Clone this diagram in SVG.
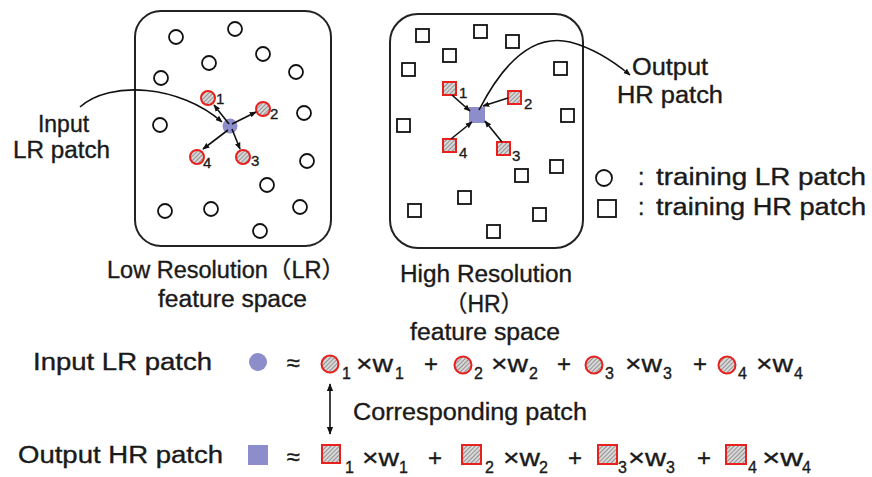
<svg xmlns="http://www.w3.org/2000/svg" width="872" height="477" viewBox="0 0 872 477">
<defs>
<pattern id="hatch" patternUnits="userSpaceOnUse" width="3" height="3" patternTransform="rotate(45)">
<rect width="3" height="3" fill="#d8d8d8"/>
<line x1="0" y1="0" x2="0" y2="3" stroke="#6a6a6a" stroke-width="1.3"/>
</pattern>
<marker id="ah" viewBox="0 0 10 10" refX="9" refY="5" markerWidth="7" markerHeight="7" orient="auto-start-reverse" markerUnits="userSpaceOnUse">
<path d="M0,1 L10,5 L0,9 z" fill="#111"/>
</marker>
<marker id="ah2" viewBox="0 0 10 10" refX="9" refY="5" markerWidth="8" markerHeight="8" orient="auto-start-reverse" markerUnits="userSpaceOnUse">
<path d="M0,1 L10,5 L0,9 z" fill="#111"/>
</marker>
</defs>
<style>
text{font-family:"Liberation Sans","Noto Sans CJK JP",Arial,sans-serif;fill:#1a1a1a;stroke:#1a1a1a;stroke-width:0.35}
.t{font-size:23px}
.n{font-size:15px}
.s{font-size:16px}
.e{font-size:24px}
.box{fill:none;stroke:#222;stroke-width:2}
.tc{fill:#fff;stroke:#111;stroke-width:1.8}
.hc{fill:url(#hatch);stroke:#e8201e;stroke-width:2}
.blue{fill:#8d8dcc}
.ar{fill:none;stroke:#111;stroke-width:1.6}
</style>
<rect width="872" height="477" fill="#fff"/>

<g id="lr-space">
<rect class="box" x="135" y="11" width="196" height="235" rx="26"/>
<g id="lr-training">
<circle class="tc" cx="176" cy="37" r="7"/>
<circle class="tc" cx="235" cy="29" r="7"/>
<circle class="tc" cx="263" cy="54" r="7"/>
<circle class="tc" cx="209" cy="63" r="7"/>
<circle class="tc" cx="161" cy="78" r="7"/>
<circle class="tc" cx="296" cy="72" r="7"/>
<circle class="tc" cx="304" cy="113" r="7"/>
<circle class="tc" cx="160" cy="125" r="7"/>
<circle class="tc" cx="307" cy="161" r="7"/>
<circle class="tc" cx="267" cy="185" r="7"/>
<circle class="tc" cx="165" cy="211" r="7"/>
<circle class="tc" cx="211" cy="209" r="7"/>
<circle class="tc" cx="300" cy="207" r="7"/>
<circle class="tc" cx="260" cy="231" r="7"/>
</g>
<g id="lr-neighbors">
<circle class="hc" cx="208" cy="98" r="7"/>
<circle class="hc" cx="263" cy="109" r="7"/>
<circle class="hc" cx="243" cy="157" r="7"/>
<circle class="hc" cx="197" cy="157" r="7"/>
<text class="n" x="216" y="104">1</text>
<text class="n" x="270" y="119">2</text>
<text class="n" x="251" y="166">3</text>
<text class="n" x="203" y="168">4</text>
</g>
<circle id="lr-input" class="blue" cx="230" cy="126" r="7.5"/>
</g>

<g id="hr-space">
<rect class="box" x="390" y="14" width="193" height="234" rx="28"/>
<g id="hr-training">
<rect class="tc" x="416" y="29" width="13" height="13"/>
<rect class="tc" x="474" y="25" width="13" height="13"/>
<rect class="tc" x="506" y="35" width="13" height="13"/>
<rect class="tc" x="443" y="49" width="13" height="13"/>
<rect class="tc" x="402" y="63" width="13" height="13"/>
<rect class="tc" x="554" y="62" width="13" height="13"/>
<rect class="tc" x="397" y="119" width="13" height="13"/>
<rect class="tc" x="561" y="109" width="13" height="13"/>
<rect class="tc" x="550" y="160" width="13" height="13"/>
<rect class="tc" x="515" y="169" width="13" height="13"/>
<rect class="tc" x="458" y="191" width="13" height="13"/>
<rect class="tc" x="408" y="204" width="13" height="13"/>
<rect class="tc" x="533" y="208" width="13" height="13"/>
<rect class="tc" x="487" y="225" width="13" height="13"/>
</g>
<g id="hr-neighbors">
<rect class="hc" x="443" y="82" width="13" height="13"/>
<rect class="hc" x="508" y="91" width="13" height="13"/>
<rect class="hc" x="497" y="142" width="13" height="13"/>
<rect class="hc" x="443" y="139" width="13" height="13"/>
<text class="n" x="459" y="98">1</text>
<text class="n" x="524" y="109">2</text>
<text class="n" x="512" y="161">3</text>
<text class="n" x="459" y="158">4</text>
</g>
<rect id="hr-output" class="blue" x="469" y="107" width="16" height="16"/>
</g>

<g id="connectors">
<path class="ar" d="M80,107 C110,80 180,85 222,122" marker-end="url(#ah)"/>
<line class="ar" x1="229" y1="124" x2="214" y2="105" marker-end="url(#ah)"/>
<line class="ar" x1="232" y1="124" x2="256" y2="112" marker-end="url(#ah)"/>
<line class="ar" x1="232" y1="129" x2="240" y2="149" marker-end="url(#ah)"/>
<line class="ar" x1="228" y1="130" x2="203" y2="149" marker-end="url(#ah)"/>
<line class="ar" x1="452" y1="95" x2="470" y2="111" marker-end="url(#ah)"/>
<line class="ar" x1="508" y1="98" x2="483" y2="106" marker-end="url(#ah)"/>
<line class="ar" x1="502" y1="142" x2="485" y2="121" marker-end="url(#ah)"/>
<line class="ar" x1="451" y1="139" x2="472" y2="122" marker-end="url(#ah)"/>
<path class="ar" d="M479,110 Q520,30 570,42 Q600,50 630,75" marker-end="url(#ah)"/>
<line class="ar" x1="330" y1="384" x2="330" y2="434" marker-start="url(#ah2)" marker-end="url(#ah2)"/>
</g>

<g id="labels">
<text class="t" x="38" y="132" textLength="51" lengthAdjust="spacingAndGlyphs">Input</text>
<text class="t" x="13" y="158" textLength="97" lengthAdjust="spacingAndGlyphs">LR patch</text>
<text class="t" x="632" y="75" textLength="76" lengthAdjust="spacingAndGlyphs">Output</text>
<text class="t" x="617" y="103" textLength="106" lengthAdjust="spacingAndGlyphs">HR patch</text>
<text class="t" x="107" y="278" textLength="238" lengthAdjust="spacingAndGlyphs">Low Resolution（LR）</text>
<text class="t" x="158" y="307" textLength="149" lengthAdjust="spacingAndGlyphs">feature space</text>
<text class="t" x="400" y="282" textLength="172" lengthAdjust="spacingAndGlyphs">High Resolution</text>
<text class="t" x="484" y="312" text-anchor="middle">（HR）</text>
<text class="t" x="410" y="340" textLength="150" lengthAdjust="spacingAndGlyphs">feature space</text>
</g>

<g id="legend">
<circle class="tc" cx="604" cy="178" r="8"/>
<text class="t" x="638" y="185">:</text>
<text class="t" x="656" y="185" textLength="210" lengthAdjust="spacingAndGlyphs">training LR patch</text>
<rect class="tc" x="598" y="200" width="18" height="17"/>
<text class="t" x="638" y="215">:</text>
<text class="t" x="656" y="215" textLength="210" lengthAdjust="spacingAndGlyphs">training HR patch</text>
</g>

<g id="equation-lr">
<text class="t" x="33" y="370" textLength="179" lengthAdjust="spacingAndGlyphs">Input LR patch</text>
<circle class="blue" cx="258" cy="362" r="9"/>
<text class="e" x="293" y="371" text-anchor="middle">≈</text>
<circle class="hc" cx="330" cy="364" r="8.5"/>
<text class="s" x="342" y="379">1</text>
<text class="e" x="356" y="372" textLength="37" lengthAdjust="spacingAndGlyphs">×w</text>
<text class="s" x="395" y="379">1</text>
<text class="e" x="431" y="372" text-anchor="middle">+</text>
<circle class="hc" cx="463" cy="365" r="8.5"/>
<text class="s" x="474" y="379">2</text>
<text class="e" x="491" y="372" textLength="37" lengthAdjust="spacingAndGlyphs">×w</text>
<text class="s" x="529" y="379">2</text>
<text class="e" x="564" y="372" text-anchor="middle">+</text>
<circle class="hc" cx="594" cy="365" r="8.5"/>
<text class="s" x="605" y="379">3</text>
<text class="e" x="625" y="372" textLength="37" lengthAdjust="spacingAndGlyphs">×w</text>
<text class="s" x="663" y="379">3</text>
<text class="e" x="700" y="372" text-anchor="middle">+</text>
<circle class="hc" cx="727" cy="365" r="8.5"/>
<text class="s" x="738" y="379">4</text>
<text class="e" x="756" y="372" textLength="37" lengthAdjust="spacingAndGlyphs">×w</text>
<text class="s" x="794" y="379">4</text>
</g>

<text class="t" x="353" y="420" textLength="234" lengthAdjust="spacingAndGlyphs">Corresponding patch</text>

<g id="equation-hr">
<text class="t" x="18" y="463" textLength="205" lengthAdjust="spacingAndGlyphs">Output HR patch</text>
<rect class="blue" x="248" y="445" width="20" height="20"/>
<text class="e" x="293" y="465" text-anchor="middle">≈</text>
<rect class="hc" x="322" y="445" width="18" height="18"/>
<text class="s" x="345" y="473">1</text>
<text class="e" x="362" y="466" textLength="37" lengthAdjust="spacingAndGlyphs">×w</text>
<text class="s" x="399" y="473">1</text>
<text class="e" x="435" y="466" text-anchor="middle">+</text>
<rect class="hc" x="462" y="445" width="19" height="19"/>
<text class="s" x="485" y="473">2</text>
<text class="e" x="503" y="466" textLength="37" lengthAdjust="spacingAndGlyphs">×w</text>
<text class="s" x="539" y="473">2</text>
<text class="e" x="575" y="466" text-anchor="middle">+</text>
<rect class="hc" x="598" y="445" width="19" height="19"/>
<text class="s" x="618" y="473">3</text>
<text class="e" x="628" y="466" textLength="38" lengthAdjust="spacingAndGlyphs">×w</text>
<text class="s" x="666" y="473">3</text>
<text class="e" x="704" y="466" text-anchor="middle">+</text>
<rect class="hc" x="726" y="445" width="20" height="19"/>
<text class="s" x="748" y="473">4</text>
<text class="e" x="762" y="466" textLength="41" lengthAdjust="spacingAndGlyphs">×w</text>
<text class="s" x="802" y="473">4</text>
</g>
</svg>
